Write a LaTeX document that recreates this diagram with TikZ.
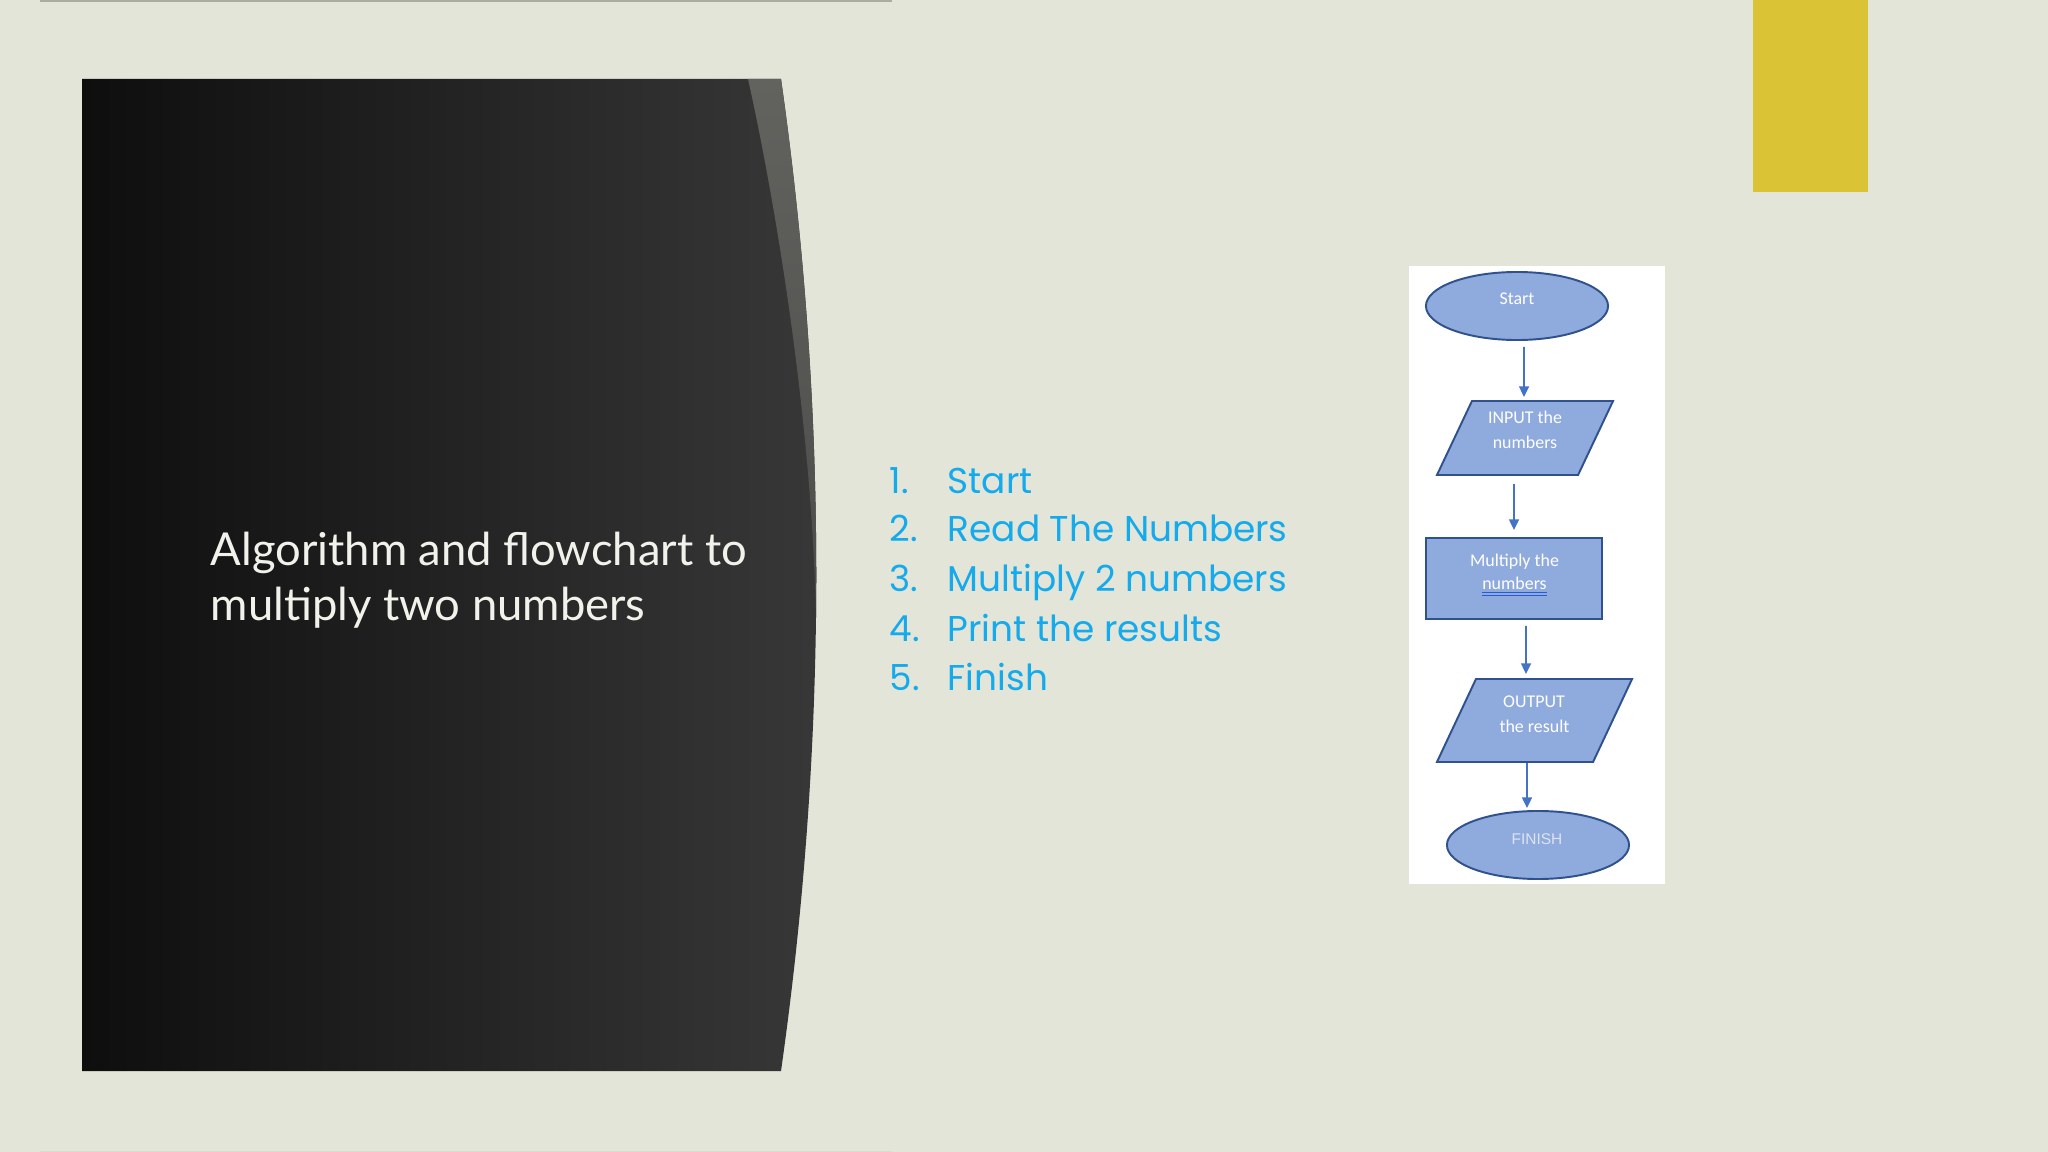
\documentclass[tikz,border=0pt]{standalone}
\usepackage{fontspec}
\setmainfont{Carlito}
\newfontfamily\titlefont{Lato}
\newfontfamily\listfont{Poppins}
\newfontfamily\arialfont{Liberation Sans}
\usetikzlibrary{shapes.geometric,arrows.meta}
\definecolor{bg}{RGB}{227,229,216}
\definecolor{panelL}{RGB}{14,14,14}
\definecolor{panelR}{RGB}{56,56,56}
\definecolor{sliverT}{RGB}{98,98,95}
\definecolor{sliverB}{RGB}{76,76,74}
\definecolor{titletext}{RGB}{242,242,236}
\definecolor{listblue}{RGB}{20,170,235}
\definecolor{boxfill}{RGB}{143,170,220}
\definecolor{boxborder}{RGB}{47,82,143}
\definecolor{arrowblue}{RGB}{68,114,196}
\definecolor{finishtext}{RGB}{220,228,242}
\definecolor{ulblue}{RGB}{40,90,210}
\definecolor{accent}{RGB}{219,195,54}
\definecolor{topline}{RGB}{170,174,160}
\definecolor{botline}{RGB}{216,219,205}
\newcommand\dblunder[1]{\setbox0\hbox{#1}\rlap{\color{ulblue}\rule[-0.9pt]{\wd0}{0.28pt}}\rlap{\color{ulblue}\rule[-1.75pt]{\wd0}{0.28pt}}\box0}
\tikzset{
  fshape/.style={draw=boxborder, fill=boxfill, line width=0.55pt},
  ellnode/.style={fshape, ellipse, minimum width=1.82cm, minimum height=0.68cm, inner sep=0pt},
  hidden/.style={draw=none, inner sep=0pt, outer sep=0pt},
  ftext/.style={text=white, font=\fontsize{5.1}{6}\selectfont, inner sep=0pt, anchor=base},
  arr/.style={draw=arrowblue, line width=0.45pt, -{Triangle[length=3pt,width=2.8pt]}},
  listitem/.style={text=listblue, font=\listfont\fontsize{10.2}{12}\selectfont, anchor=base west, inner sep=0pt},
  titleline/.style={text=titletext, font=\titlefont\fontsize{12.9}{15.6}\selectfont, anchor=base west, inner sep=0pt},
}
\begin{document}
\begin{tikzpicture}[x=0.01cm,y=-0.01cm]
\useasboundingbox (0,0) rectangle (2048,1152);
\fill[bg] (0,0) rectangle (2048,1152);
% thin lines at top and bottom
\draw[topline, line width=0.6pt] (40,1) -- (892,1);
\draw[botline, line width=0.5pt] (40,1151.5) -- (892,1151.5);
% yellow accent
\fill[accent] (1753,0) rectangle (1868,192);
% dark panel
\shade[left color=panelL, right color=panelR]
  (82,79) -- (781,79) .. controls (828,410) and (828,740) .. (781,1071) -- (82,1071) -- cycle;
\begin{scope}
  \clip (82,79) -- (781,79) .. controls (828,410) and (828,740) .. (781,1071) -- (82,1071) -- cycle;
  \shade[top color=sliverT, bottom color=sliverB]
    (748,79) .. controls (775,200) and (812,420) .. (816,618) -- (900,618) -- (900,79) -- cycle;
\end{scope}
% title
\node[titleline] (title1) at (210,565) {Algorithm and flowchart to};
\node[titleline] (title2) at (210,620) {multiply two numbers};
% algorithm list
\node[listitem] (n1) at (889,494) {1.};
\node[listitem] (t1) at (947,494) {Start};
\node[listitem] (n2) at (889,542) {2.};
\node[listitem] (t2) at (947,542) {Read The Numbers};
\node[listitem] (n3) at (889,592) {3.};
\node[listitem] (t3) at (947,592) {Multiply 2 numbers};
\node[listitem] (n4) at (889,641) {4.};
\node[listitem] (t4) at (947,641) {Print the results};
\node[listitem] (n5) at (889,690) {5.};
\node[listitem] (t5) at (947,690) {Finish};
% flowchart panel
\fill[white] (1409,266) rectangle (1665,884);
\node[ellnode] (start) at (1517,306) {};
\node[hidden, minimum width=1.76cm, minimum height=0.74cm] (input) at (1525,438) {};
\filldraw[fshape] (input.south west) -- ([xshift=-1.41cm]input.north east) -- (input.north east) -- ([xshift=1.41cm]input.south west) -- cycle;
\node[fshape, rectangle, minimum width=1.76cm, minimum height=0.81cm, inner sep=0pt] (mult) at (1514,578.5) {};
\node[hidden, minimum width=1.95cm, minimum height=0.83cm] (output) at (1534.5,720.5) {};
\filldraw[fshape] (output.south west) -- ([xshift=-1.56cm]output.north east) -- (output.north east) -- ([xshift=1.56cm]output.south west) -- cycle;
\node[ellnode] (finish) at (1538,845) {};
% flowchart texts
\node[ftext] (starttext) at (1517,305) {Start};
\node[ftext] (inputtext1) at (1525,424) {INPUT the};
\node[ftext] (inputtext2) at (1525,449) {numbers};
\node[ftext] (multtext1) at (1514.5,567) {Multiply the};
\node[ftext] (multtext2) at (1514.5,590) {\dblunder{numbers}};
\node[ftext] (outputtext1) at (1534,707) {OUTPUT};
\node[ftext] (outputtext2) at (1534.5,732) {the result};
\node[ftext, text=finishtext, font=\arialfont\fontsize{4.4}{5}\selectfont] (finishtext) at (1537,844) {FINISH};
% connectors
\draw[arr] ([xshift=0.07cm,yshift=-0.06cm]start.south) -- ([xshift=-0.01cm,yshift=0.04cm]input.north);
\draw[arr] ([xshift=-0.11cm,yshift=-0.09cm]input.south) -- ([yshift=0.07cm]mult.north);
\draw[arr] ([xshift=0.12cm,yshift=-0.06cm]mult.south) -- ([xshift=-0.085cm,yshift=0.05cm]output.north);
\draw[arr] ([xshift=-0.075cm,yshift=-0.01cm]output.south) -- ([xshift=-0.11cm,yshift=0.02cm]finish.north);
\end{tikzpicture}
\end{document}
